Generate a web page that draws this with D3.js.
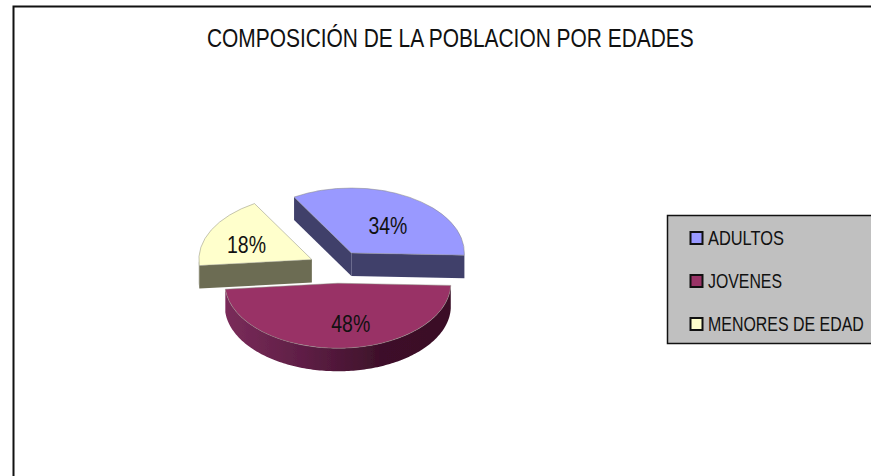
<!DOCTYPE html>
<html><head><meta charset="utf-8">
<script src="https://cdnjs.cloudflare.com/ajax/libs/d3/7.8.5/d3.min.js"></script>
<style>html,body{margin:0;padding:0;background:#fff;overflow:hidden}
text{font-family:"Liberation Sans",sans-serif;fill:#111}</style>
</head><body><svg id="c" width="871" height="476"></svg>
<script>
const categories = ["ADULTOS","JOVENES","MENORES DE EDAD"];
const values = [34,48,18];
const topColors = ["#9999ff","#993366","#ffffcc"];
const wallColors = ["#3f3f6b","#5a1c42","#6c6c52"];
const titleText = "COMPOSICIÓN DE LA POBLACION POR EDADES";

const svg = d3.select("#c");
const rad = d => d*Math.PI/180;
const cx=337, cy=267, rx=113, ry=65, depth=23, explode=0.25;

// text squeezed to a given width, as the reference uses a narrow face
function narrow(parent, str, x, y, size, width){
  const t = parent.append("text").attr("font-size",size).attr("dy","0.36em").text(str);
  const k = width / t.node().getComputedTextLength();
  t.attr("transform",`translate(${x},${y}) scale(${k},1)`);
  return t;
}

svg.append("path").attr("d","M871,6.5H13.5V476").attr("fill","none").attr("stroke","#111").attr("stroke-width",2);
narrow(svg, titleText, 207, 38, 26, 487);

const defs = svg.append("defs");
const g = defs.append("linearGradient").attr("id","jw").attr("gradientUnits","userSpaceOnUse")
  .attr("x1",225).attr("x2",450).attr("y1",0).attr("y2",0);
[[0,"#7a2c5a"],[0.35,"#5e1e45"],[0.7,"#3d1029"],[1,"#3a1027"]].forEach(s=>g.append("stop").attr("offset",s[0]).attr("stop-color",s[1]));
defs.append("filter").attr("id","soft").append("feGaussianBlur").attr("stdDeviation",0.45);

const pie = d3.pie().sort(null).startAngle(rad(-30.5)).endAngle(rad(329.5));
const arcs = pie(values);
const sx = d3.scaleLinear().domain([0,1]).range([0,rx]);
const sy = d3.scaleLinear().domain([0,1]).range([0,ry]);
const arcGen = d3.arc().innerRadius(0).outerRadius(rx);
const pieG = svg.append("g").attr("filter","url(#soft)");

[0,2,1].forEach(i=>{
  const a = arcs[i], mid=(a.startAngle+a.endAngle)/2;
  const ox = cx+sx(explode*Math.sin(mid)), oy = cy-sy(explode*Math.cos(mid));
  const P = t=>[ox+sx(Math.sin(t)), oy-sy(Math.cos(t))];
  const group = pieG.append("g");
  const wall = i===1 ? "url(#jw)" : wallColors[i];
  const quad = t=>{const p=P(t);
    return `M${ox},${oy}L${p[0]},${p[1]}L${p[0]},${p[1]+depth}L${ox},${oy+depth}Z`;};
  if(Math.sin(a.startAngle)<0) group.append("path").attr("d",quad(a.startAngle)).attr("fill",wall);
  if(Math.sin(a.endAngle)>0) group.append("path").attr("d",quad(a.endAngle)).attr("fill",wall);
  const lo=Math.max(a.startAngle,Math.PI/2), hi=Math.min(a.endAngle,3*Math.PI/2);
  if(hi>lo){
    const ts=d3.range(lo,hi,0.02).concat([hi]);
    const up=ts.map(P), down=ts.map(P).reverse().map(p=>[p[0],p[1]+depth]);
    group.append("path").attr("d",d3.line()(up.concat(down))+"Z").attr("fill",wall);
  }
  group.append("path")
    .attr("transform",`translate(${ox},${oy}) scale(1,${ry/rx})`)
    .attr("d",arcGen(a)).attr("fill",topColors[i])
    .attr("stroke","#8a8a80").attr("stroke-width",0.9).attr("stroke-opacity",0.7);
});
// labels: placed on each slice's centroid, then nudged
const labelNudge = [[3,5],[11,2],[-7,2]];
const labelWidth = 39;
arcs.forEach((a,i)=>{
  const mid=(a.startAngle+a.endAngle)/2, f=explode+0.58;
  const x=cx+sx(f*Math.sin(mid))+labelNudge[i][0], y=cy-sy(f*Math.cos(mid))+labelNudge[i][1];
  narrow(svg, values[i]+"%", x-labelWidth/2, y, 24, labelWidth);
});
// legend
const lg = svg.append("g");
lg.append("rect").attr("x",667.5).attr("y",215.5).attr("width",210).attr("height",128)
  .attr("fill","#c0c0c0").attr("stroke","#111").attr("stroke-width",1.5);
const rowY = d3.scalePoint().domain(categories).range([238,324]);
const legendWidths = [76,74,156];
categories.forEach((c,i)=>{
  lg.append("rect").attr("x",690.5).attr("y",rowY(c)-6).attr("width",12).attr("height",12)
    .attr("fill",topColors[i]).attr("stroke","#111").attr("stroke-width",2);
  narrow(lg, c, 708, rowY(c)-1, 21, legendWidths[i]);
});
</script></body></html>
